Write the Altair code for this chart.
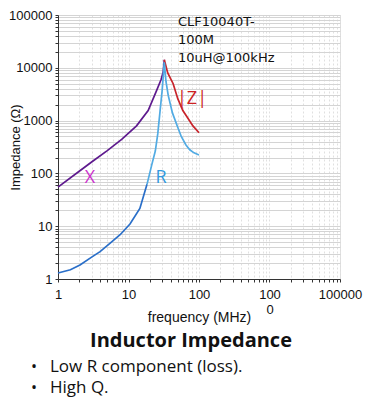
import altair as alt
import pandas as pd

# X (reactance) rising to the self-resonant peak
freq_X = [1, 2, 3.1, 5, 8, 13, 19, 25, 29, 31, 32.2]
val_X = [55, 110, 170, 270, 440, 795, 1550, 3700, 6000, 8200, 14200]
# |Z| after resonance
freq_Z = [32.2, 36, 43, 50, 59, 70, 82, 100]
val_Z = [14200, 8000, 5000, 2600, 1550, 1100, 795, 590]
# R (loss) low-frequency part
freq_R1 = [1, 1.5, 2.05, 3, 3.95, 5.5, 7.6, 10.5, 14.5, 18.3]
val_R1 = [1.3, 1.5, 1.85, 2.6, 3.3, 4.8, 6.9, 11, 21.7, 62]
# R near and after resonance
freq_R2 = [18.3, 21.5, 24, 26, 28, 30, 32.2, 34, 36.6, 42, 49, 56, 65, 74, 85, 100]
val_R2 = [62, 150, 265, 560, 1500, 3700, 12700, 5500, 3000, 1400, 800, 500, 350, 280, 245, 223]

x_ticks = [m * 10 ** k for k in range(0, 4) for m in range(1, 10)] + [10000]
y_ticks = [m * 10 ** k for k in range(0, 5) for m in range(1, 10)] + [100000]

note_lines = ["CLF10040T-", "100M", "10uH@100kHz"]
title_text = "Inductor Impedance"
bullets = ["Low R component (loss).", "High Q."]

rows = []
for s, fs, vs in [("X", freq_X, val_X), ("Z", freq_Z, val_Z),
                  ("R1", freq_R1, val_R1), ("R2", freq_R2, val_R2)]:
    for f, v in zip(fs, vs):
        rows.append({"series": s, "f": f, "v": v})
df = pd.DataFrame(rows)

xscale = alt.Scale(type="log", domain=[1, 10000])
yscale = alt.Scale(type="log", domain=[1, 100000])

x_label_expr = ("datum.value == 1 ? '1' : datum.value == 10 ? '10' : datum.value == 100 ? '100' : "
                "datum.value == 1000 ? ['100','0'] : datum.value == 10000 ? '100000' : ''")
y_label_expr = "indexof([1,10,100,1000,10000,100000], datum.value) >= 0 ? format(datum.value, 'd') : ''"

lines = alt.Chart(df).mark_line(strokeWidth=1.7).encode(
    x=alt.X("f:Q", scale=xscale, title="frequency (MHz)",
            axis=alt.Axis(values=x_ticks, labelExpr=x_label_expr, grid=True,
                          gridColor="#e0e0e0", gridDash=[2, 2], tickSize=3,
                          labelOverlap=False, labelFlush=False, labelPadding=6,
                          labelFontSize=13, labelFont="Liberation Sans", labelColor="#111",
                          labelLineHeight=15,
                          titleFontSize=14, titleFont="Liberation Sans", titleFontWeight="normal",
                          titleColor="#111", titleY=38, titleBaseline="middle",
                          domainColor="#333", tickColor="#333")),
    y=alt.Y("v:Q", scale=yscale, title="Impedance (Ω)",
            axis=alt.Axis(values=y_ticks, labelExpr=y_label_expr, grid=True,
                          gridColor="#d4d4d4", tickSize=3, labelOverlap=False,
                          labelFlush=False, labelPadding=3,
                          labelFontSize=13, labelFont="Liberation Sans", labelColor="#111",
                          titleFontSize=13, titleFont="Liberation Sans", titleFontWeight="normal",
                          titleColor="#111", titleX=-43, titleY=132, titleBaseline="middle",
                          domainColor="#333", tickColor="#333")),
    color=alt.Color("series:N", scale=alt.Scale(domain=["X", "Z", "R1", "R2"],
                                                 range=["#5e1a8e", "#c8242b", "#2a6fc9", "#52abe3"]),
                    legend=None),
    detail="series:N",
)

layers = [lines]

# model annotation, three lines
for i, (t, py) in enumerate(zip(note_lines, [7, 25, 43])):
    layers.append(
        alt.Chart(pd.DataFrame({"t": [t]})).mark_text(
            align="left", baseline="middle", font="DejaVu Sans", fontSize=13, color="#111"
        ).encode(x=alt.value(120), y=alt.value(py), text="t:N")
    )

labels = pd.DataFrame({
    "t": ["X", "R", "|Z|"],
    "f": [2.84, 28.9, 79.6],
    "v": [82, 82, 2570],
    "c": ["#cc33cc", "#3399dd", "#cc2222"],
})
layers.append(alt.Chart(labels).mark_text(font="Open Sans", fontSize=18,
                                          baseline="middle", align="center").encode(
    x=alt.X("f:Q", scale=xscale),
    y=alt.Y("v:Q", scale=yscale),
    text="t:N",
    color=alt.Color("c:N", scale=None),
))

layers.append(alt.Chart(pd.DataFrame({"t": [title_text]})).mark_text(
    font="Open Sans", fontSize=20, fontWeight="bold", color="#111", align="center", baseline="middle"
).encode(x=alt.value(133), y=alt.value(326), text="t:N"))

for t, py in zip(bullets, [352, 373]):
    layers.append(alt.Chart(pd.DataFrame({"t": [t]})).mark_text(
        font="Open Sans", fontSize=17, color="#111", align="left", baseline="middle"
    ).encode(x=alt.value(-8), y=alt.value(py), text="t:N"))
    layers.append(alt.Chart(pd.DataFrame({"t": ["•"]})).mark_text(
        font="Open Sans", fontSize=16, color="#111", align="center", baseline="middle"
    ).encode(x=alt.value(-24), y=alt.value(py), text="t:N"))

chart = alt.layer(*layers).properties(
    width=282, height=264,
    autosize=alt.AutoSizeParams(type="none"),
    padding={"left": 50, "top": 7, "right": 26, "bottom": 120},
).configure_view(stroke=None).configure(background="white")

chart.save("out.html", embed_options={"renderer": "svg", "actions": False})
